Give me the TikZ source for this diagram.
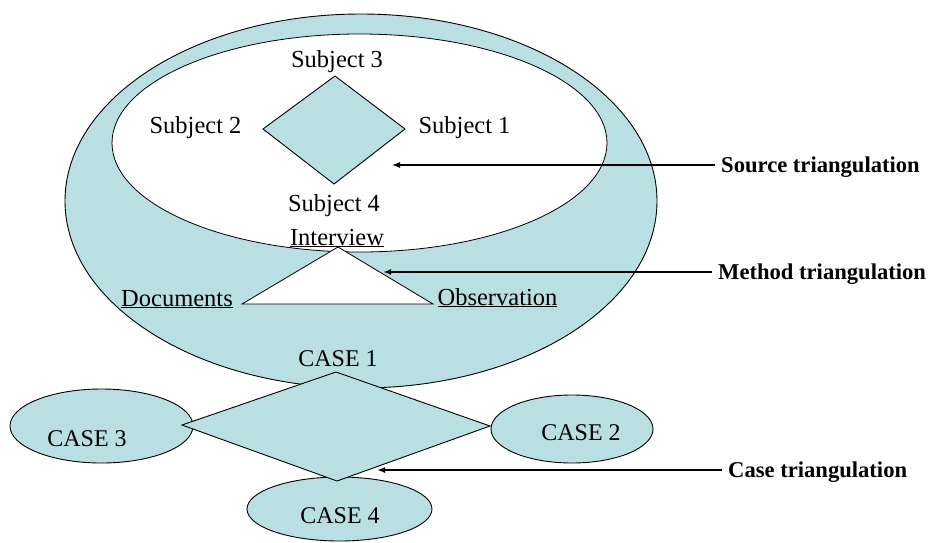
\documentclass[tikz,border=0pt]{standalone}
\usepackage{fontspec}
\setmainfont{Liberation Serif}
\usetikzlibrary{arrows.meta}
\definecolor{pale}{RGB}{186,223,227}
\begin{document}
\begin{tikzpicture}[x=1pt,y=-1pt,
  blob/.style={draw=black, line width=0.9pt, fill=pale},
  hole/.style={draw=black, line width=0.8pt, fill=white},
  lbl/.style={font=\fontsize{24.5}{28}\selectfont, inner sep=0pt, anchor=base},
  casetxt/.style={font=\fontsize{24}{28}\selectfont, inner sep=0pt, anchor=base},
  tag/.style={font=\bfseries\fontsize{22.6}{27}\selectfont, inner ysep=0pt, inner xsep=6pt, anchor=west},
  pointer/.style={-{Latex[length=8pt,width=6pt]}}
]
\useasboundingbox (0,0) rectangle (929,542);

% outer crescent and the white source area
\draw[blob] (361,201) ellipse [x radius=296, y radius=187];
\draw[hole] (359.5,143) ellipse [x radius=247.5, y radius=109];

% subject diamond
\coordinate (s3) at (335,76);
\coordinate (s1) at (405,129);
\coordinate (s4) at (334,184);
\coordinate (s2) at (263,129);
\draw[blob] (s3) -- (s1) -- (s4) -- (s2) -- cycle;

\node[lbl] (t3) at (337,67) {Subject 3};
\node[lbl] (t2) at (195.5,133) {Subject 2};
\node[lbl] (t1) at (464.5,133) {Subject 1};
\node[lbl] (t4) at (334,211) {Subject 4};

% method triangle
\coordinate (iv) at (338,247);
\coordinate (dc) at (242,304);
\coordinate (ob) at (433,304);
\draw[hole] (iv) -- (ob) -- (dc) -- cycle;

\node[lbl] (tiv) at (337,245) {\underline{Interview}};
\node[lbl] (tdc) at (177,306) {\underline{Documents}};
\node[lbl] (tob) at (497.5,305) {\underline{Observation}};

% case ellipses
\draw[blob] (101.5,426) ellipse [x radius=91.5, y radius=37];
\draw[blob] (572,429) ellipse [x radius=81, y radius=34];
\draw[blob] (339.5,509) ellipse [x radius=92.5, y radius=32];

% case diamond
\coordinate (c1) at (336,372);
\coordinate (c2) at (490,426);
\coordinate (c4) at (337,481);
\coordinate (c3) at (182,425);
\draw[blob] (c1) -- (c2) -- (c4) -- (c3) -- cycle;

\node[casetxt] (k1) at (338,366) {CASE 1};
\node[casetxt] (k3) at (87,446) {CASE 3};
\node[casetxt] (k2) at (581,440) {CASE 2};
\node[casetxt] (k4) at (340,523) {CASE 4};

% triangulation labels and their pointers
\coordinate (srctip) at (392,165);
\coordinate (mettip) at (383,272);
\coordinate (casetip) at (377,470);

\node[tag] (src) at (715,167) {Source triangulation};
\node[tag] (met) at (712,274) {Method triangulation};
\node[tag] (cas) at (722,472) {Case triangulation};

\draw[pointer, line width=1.1pt] (src.west |- srctip) -- (srctip);
\draw[pointer, line width=2.2pt] (met.west |- mettip) -- (mettip);
\draw[pointer, line width=1.8pt] (cas.west |- casetip) -- (casetip);
\end{tikzpicture}
\end{document}
